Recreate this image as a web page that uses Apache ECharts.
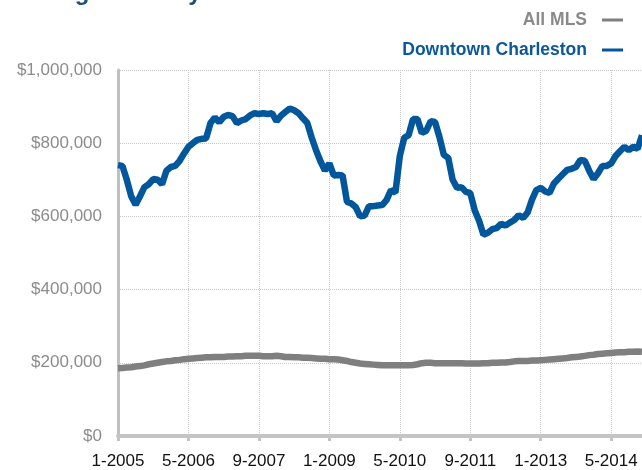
<!DOCTYPE html>
<html>
<head>
<meta charset="utf-8">
<script src="https://cdn.jsdelivr.net/npm/echarts@6/dist/echarts.min.js"></script>
<style>html,body{margin:0;padding:0;background:#fff}#c{width:642px;height:470px}</style>
</head>
<body>
<div id="c"></div>
<script>
// Months Jan 2005 .. Dec 2014
const months = [];
for (let y = 2005; y <= 2014; y++) for (let m = 1; m <= 12; m++) months.push(m + '-' + y);

const seriesNames = ['All MLS', 'Downtown Charleston'];

const allMLS = [185,186,187,188,190,191,193,196,198,200,202,204,205,207,208,210,211,212,213,214,
215,215,216,216,216,217,217,218,218,219,219,219,219,218,218,218,219,218,216,216,
215,215,214,214,213,212,211,211,210,210,209,207,205,202,200,198,197,196,195,194,
193,193,193,193,193,193,193,194,196,199,200,200,199,199,199,199,199,199,199,198,
198,198,198,199,199,200,200,201,201,202,204,205,205,205,206,206,207,208,209,210,
211,212,213,215,216,217,219,221,222,224,225,226,227,228,229,229,230,230,231,230].map(v => v * 1000);

const downtown = [740,738,700,655,632,655,680,688,702,700,688,725,735,738,752,772,790,800,809,812,
813,855,870,857,872,877,874,855,862,866,876,882,880,882,880,882,860,875,885,895,
890,882,868,855,815,780,750,725,745,712,713,712,640,635,625,600,602,628,628,630,
631,645,672,665,765,815,822,866,866,828,834,860,858,817,768,760,700,678,680,667,
664,617,588,550,555,565,568,580,575,583,590,603,596,610,645,672,678,668,664,690,
703,715,727,730,735,754,752,725,702,718,738,738,745,765,778,790,781,790,785,822].map(v => v * 1000);

const yTicks = [0, 200000, 400000, 600000, 800000, 1000000];

const BLUE = '#02569b';
const GRAY = '#7f7f7f';
const SANS = "'Liberation Sans', Arial, Helvetica, sans-serif";

const chart = echarts.init(document.getElementById('c'));
chart.setOption({
  animation: false,
  title: {
    text: 'Average Monthly Sales Price',
    left: 4, top: -24,
    textStyle: { color: '#1b4f82', fontSize: 24, fontWeight: 'bold', fontFamily: SANS }
  },
  legend: {
    orient: 'vertical', right: 14, top: 5, align: 'right',
    itemWidth: 21, itemHeight: 3, itemGap: 10, icon: 'rect',
    textStyle: { fontSize: 17.5, lineHeight: 20, fontWeight: 'bold', fontFamily: SANS, padding: [0, 10, 0, 0] },
    data: [
      { name: seriesNames[0], textStyle: { color: '#8a8a8a' } },
      { name: seriesNames[1], textStyle: { color: '#0a579b' } }
    ]
  },
  grid: { left: 118, right: 0, top: 70, bottom: 34, containLabel: false },
  xAxis: {
    type: 'category', data: months, boundaryGap: false,
    axisLine: { show: true, lineStyle: { color: '#c4c4c4', width: 4 } },
    axisTick: { show: true, interval: 15, length: 5, lineStyle: { color: '#c4c4c4', width: 3 } },
    axisLabel: { interval: 15, color: '#111', fontSize: 17, margin: 17, fontFamily: SANS },
    splitLine: { show: true, interval: 15, lineStyle: { color: '#c8c8c8', type: 'dotted', width: 1 } }
  },
  yAxis: {
    type: 'value', min: yTicks[0], max: yTicks[yTicks.length - 1], interval: 200000,
    axisLine: { show: true, lineStyle: { color: '#c0c0c0', width: 3 } },
    axisTick: { show: false },
    axisLabel: {
      color: '#8c8c8c', fontSize: 17, margin: 16, fontFamily: SANS,
      formatter: v => '$' + v.toLocaleString('en-US')
    },
    splitLine: { show: true, lineStyle: { color: '#c8c8c8', type: 'dotted', width: 1 } }
  },
  series: [
    { name: seriesNames[0], type: 'line', data: allMLS, showSymbol: false, symbol: 'none',
      lineStyle: { color: GRAY, width: 6.5 }, itemStyle: { color: GRAY }, z: 3 },
    { name: seriesNames[1], type: 'line', data: downtown, showSymbol: false, symbol: 'none',
      lineStyle: { color: BLUE, width: 6.5 }, itemStyle: { color: BLUE }, z: 4 }
  ]
});
</script>
</body>
</html>
